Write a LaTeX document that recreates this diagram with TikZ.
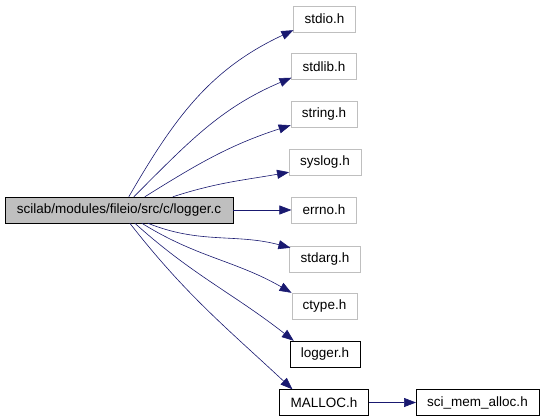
\documentclass[tikz,border=0pt]{standalone}
\usepackage{fontspec}
\setmainfont{Liberation Sans}
\usepackage{tikz}
\usetikzlibrary{calc}
\usetikzlibrary{arrows.meta}

\definecolor{edgeblue}{HTML}{191970}
\definecolor{boxgrey}{HTML}{BFBFBF}

\tikzset{
  file/.style={draw=black, rectangle, minimum height=26pt, inner xsep=11pt, inner ysep=0pt, font=\fontsize{13.5}{15}\selectfont},
  extfile/.style={file, draw=boxgrey},
  dep/.style={draw=edgeblue, line width=0.6pt, -{Triangle[length=12pt,width=9pt]}, edgeblue}
}

\begin{document}
\begin{tikzpicture}[x=1pt,y=1pt]
        \useasboundingbox (0,0) rectangle (543,418);
        \node[file, fill=boxgrey, minimum width=228pt] (main) at (119,208) {scilab/modules/fileio/src/c/logger.c};
        \node[extfile] (stdio) at (324.5,399) {stdio.h};
        \node[extfile] (stdlib) at (324,351.5) {stdlib.h};
        \node[extfile] (string) at (324,304) {string.h};
        \node[extfile] (syslog) at (325,256) {syslog.h};
        \node[extfile] (errno) at (324,208) {errno.h};
        \node[extfile] (stdarg) at (325,159) {stdarg.h};
        \node[extfile] (ctype) at (324.5,112) {ctype.h};
        \node[file] (logger) at (325,64) {logger.h};
        \node[file] (malloc) at (324,15.5) {MALLOC.h};
        \node[file] (scimem) at (477.5,15.5) {sci\_mem\_alloc.h};
        % upper includes
        \draw[dep]($(main.north west)+(124,0)$) to[out=60,in=205] ($(stdio.south west)+(0,2)$);
        \draw[dep]($(main.north west)+(129,0)$) to[out=45,in=203] ($(stdlib.south west)+(0,2)$);
        \draw[dep]($(main.north west)+(140,0)$) to[out=32,in=198] ($(string.south west)+(0,2)$);
        \draw[dep]($(main.north west)+(168,0)$) to[out=18,in=190] ($(syslog.south west)+(0,3)$);
        \draw[dep](main.east) -- (errno.west);
        % lower includes
        \draw[dep]($(main.south west)+(143,0)$) to[out=-22,in=165] ($(stdarg.north west)+(1,-2)$);
        \draw[dep]($(main.south west)+(137,0)$) to[out=-32,in=150] (ctype.north west);
        \draw[dep]($(main.south west)+(130,0)$) to[out=-42,in=142] ($(logger.north west)+(4,0)$);
        \draw[dep]($(main.south west)+(125,0)$) to[out=-52,in=137] ($(malloc.north west)+(13,0)$);
        \draw[dep](malloc) -- (scimem);
    \end{tikzpicture}
\end{document}
